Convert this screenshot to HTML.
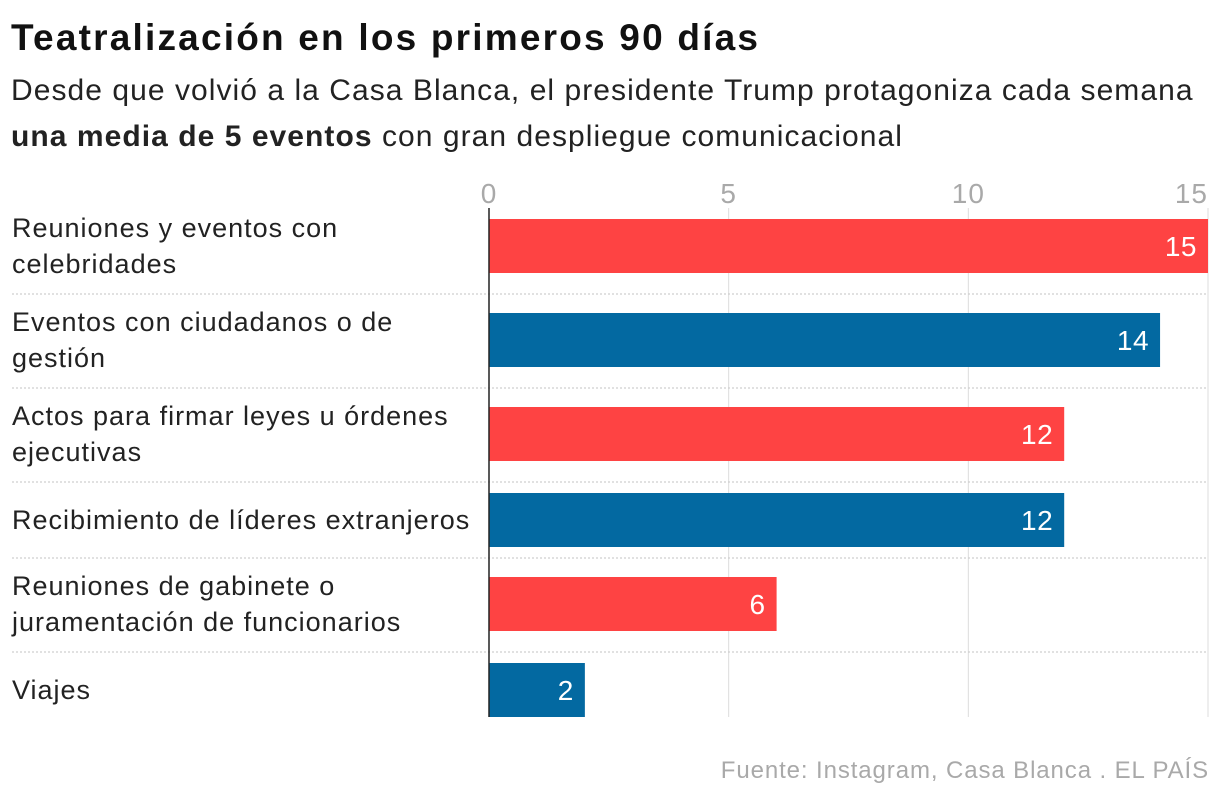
<!DOCTYPE html>
<html><head><meta charset="utf-8"><style>
body{margin:0;background:#fff;font-family:"Liberation Sans",sans-serif;}
#wrap{position:relative;width:1220px;height:802px;overflow:hidden;}
h1{position:absolute;left:11px;top:17px;margin:0;font-size:37px;font-weight:bold;color:#111;letter-spacing:2.2px;}
.sub{position:absolute;left:11px;top:68px;margin:0;font-size:30px;line-height:46px;color:#222;letter-spacing:1.05px;white-space:nowrap;}
.src{position:absolute;right:11px;top:757px;font-size:24px;color:#a9a9a9;letter-spacing:0.9px;}
</style></head><body>
<div id="wrap">
<h1>Teatralización en los primeros 90 días</h1>
<p class="sub">Desde que volvió a la Casa Blanca, el presidente Trump protagoniza cada semana<br><b>una media de 5 eventos</b> con gran despliegue comunicacional</p>
<svg id="chart" width="1220" height="802" style="position:absolute;left:0;top:0"></svg>
<div class="src">Fuente: Instagram, Casa Blanca . EL PAÍS</div>
</div>
<script>
const categories=[["Reuniones y eventos con","celebridades"],["Eventos con ciudadanos o de","gestión"],["Actos para firmar leyes u órdenes","ejecutivas"],["Recibimiento de líderes extranjeros"],["Reuniones de gabinete o","juramentación de funcionarios"],["Viajes"]];
const values=[15,14,12,12,6,2];
const ticks=[0,5,10,15];
const colors=["#fe4343","#0369a1"];
const svg=document.getElementById('chart');
const NS='http://www.w3.org/2000/svg';
const x0=489,x1=1208,maxV=15;
const xs=v=>x0+(x1-x0)*v/maxV;
function mk(t,a){const e=document.createElementNS(NS,t);for(const k in a)e.setAttribute(k,a[k]);svg.appendChild(e);return e;}
let y=200;const rows=[];
categories.forEach(c=>{const h=c.length>1?94:76;const off=c.length>1?19:11;rows.push({top:y,h:h,bar:y+off});y+=h;});
const bottom=rows[rows.length-1].bar+54;
ticks.forEach(t=>{
 if(t>0){const g=mk('line',{x1:xs(t),x2:xs(t),y1:208,y2:bottom,stroke:'#dcdcdc','stroke-width':1});
 
 }
 const tx=mk('text',{x:xs(t),y:203,'text-anchor':t===15?'end':'middle','font-size':28,fill:'#a9a9a9','font-family':'Liberation Sans','letter-spacing':1});
 tx.textContent=t;
 
 
});
rows.forEach((r,i)=>{
 if(i>0){const s=mk('line',{x1:12,x2:1208,y1:r.top,y2:r.top,stroke:'#cfcfcf','stroke-width':1.2,'stroke-dasharray':'2 2'});
 
 }
 const b=mk('rect',{x:x0,y:r.bar,width:xs(values[i])-x0,height:54,fill:colors[i%2]});
 
 
 const v=mk('text',{x:xs(values[i])-11,y:r.bar+37,'text-anchor':'end','font-size':28,fill:'#fff','font-family':'Liberation Sans','letter-spacing':0.5});
 v.textContent=values[i];
 
 
 const lines=categories[i];
 const cy=r.bar+27;
 lines.forEach((l,j)=>{
  const t=mk('text',{x:12,y:cy+9+(j-(lines.length-1)/2)*36,'font-size':27,fill:'#222','font-family':'Liberation Sans','letter-spacing':1});
  t.textContent=l;
  
  
 });
});
const ax=mk('line',{x1:x0,x2:x0,y1:208,y2:bottom,stroke:'#222','stroke-width':1.5});


</script>
</body></html>
